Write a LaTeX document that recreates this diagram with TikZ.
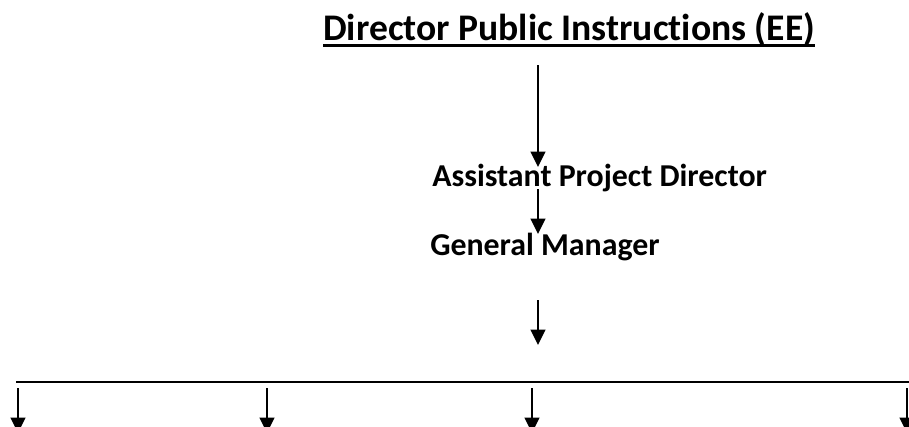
\documentclass[tikz,border=0pt]{standalone}
\usepackage{fontspec}
\setmainfont[Ligatures=NoCommon]{Carlito}
\usetikzlibrary{arrows.meta}
\begin{document}
\begin{tikzpicture}[x=0.75pt,y=-0.75pt,
  lbl/.style={anchor=base west,inner sep=0pt,font=\bfseries},
  arr/.style={line width=1.6pt,-{Triangle[length=11.5pt,width=11pt]}},
  bar/.style={line width=2.1pt}]
\useasboundingbox (0,0) rectangle (909,426);
\clip (0,0) rectangle (909,426);
\node[lbl,font=\fontsize{28.2}{33}\selectfont\bfseries] (title) at (323,40) {Director Public Instructions (EE)};
\draw[line width=2.2pt] ([yshift=-3.8pt]title.base west) -- ([yshift=-3.8pt]title.base east);
\node[lbl,font=\fontsize{23.9}{28}\selectfont\bfseries] (apd) at (432,186) {Assistant Project Director};
\node[lbl,font=\fontsize{23.9}{28}\selectfont\bfseries] (gm) at (430,255) {General Manager};
\coordinate (a1s) at (538,65);
\coordinate (a1e) at (538,167);
\coordinate (a2s) at (538,189);
\coordinate (a2e) at (538,234);
\coordinate (a3s) at (538,300);
\coordinate (a3e) at (538,345);
\draw[arr] (a1s) -- (a1e);
\draw[arr] (a2s) -- (a2e);
\draw[arr] (a3s) -- (a3e);
\coordinate (bl) at (16,382);
\coordinate (br) at (909,382);
\draw[bar] (bl) -- (br);
\foreach \i/\x in {1/18,2/267,3/532,4/907}{
  \coordinate (d\i s) at (\x,388);
  \coordinate (d\i e) at (\x,433);
  \draw[arr] (d\i s) -- (d\i e);
}
\end{tikzpicture}
\end{document}
